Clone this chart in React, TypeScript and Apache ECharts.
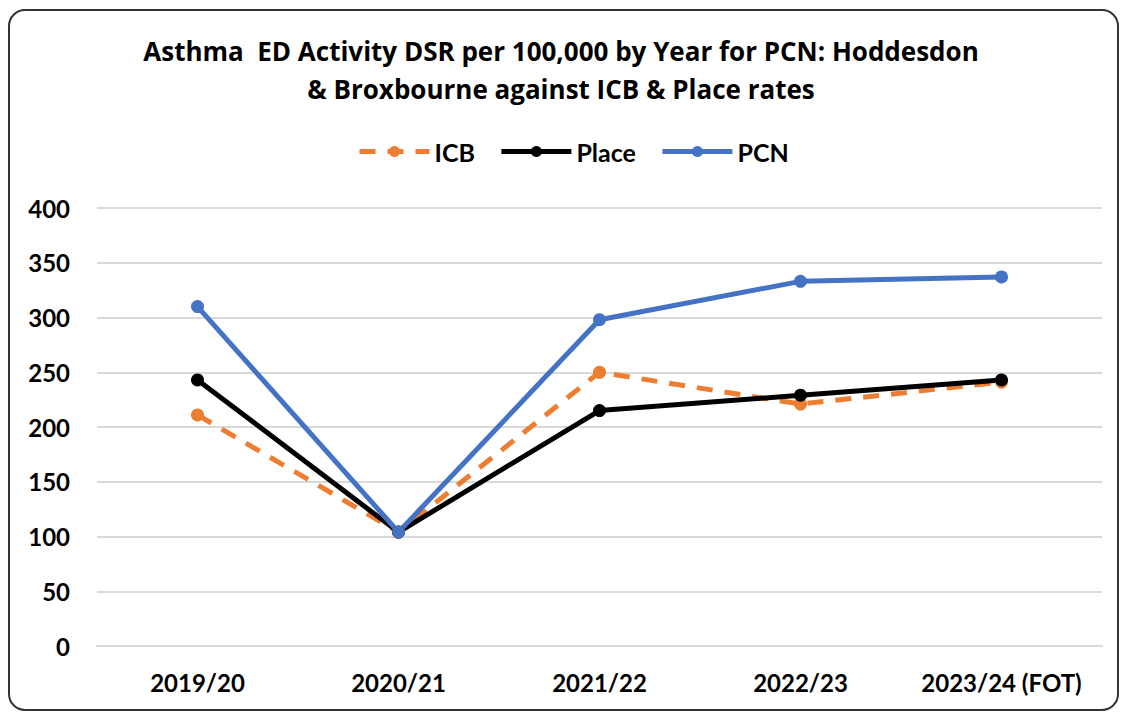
import React, { useEffect, useRef } from "react";
import * as echarts from "echarts";

const categories = ["2019/20", "2020/21", "2021/22", "2022/23", "2023/24 (FOT)"];
const icbValues = [211, 104, 250, 221, 241];
const placeValues = [243, 104, 215, 229, 243];
const pcnValues = [310, 104, 298, 333, 337];
const yTicks = { min: 0, max: 400, interval: 50 };

const FONT = "Lato, 'Noto Sans', sans-serif";
const TITLE_FONT = "'Open Sans', Lato, sans-serif";

export default function App() {
  const ref = useRef<HTMLDivElement>(null);
  useEffect(() => {
    if (!ref.current) return;
    const chart = echarts.init(ref.current, null, { renderer: "svg" });
    chart.setOption({
      animation: false,
      backgroundColor: "#ffffff",
      title: {
        text: "Asthma  ED Activity DSR per 100,000 by Year for PCN: Hoddesdon\n& Broxbourne against ICB & Place rates",
        left: "center",
        top: 27,
        textStyle: {
          fontFamily: TITLE_FONT,
          fontSize: 26,
          fontWeight: "bold",
          color: "#000",
          lineHeight: 38,
        },
      },
      legend: {
        top: 134,
        left: 352,
        itemWidth: 70,
        itemHeight: 14,
        itemGap: 24,
        lineStyle: { width: 5 },
        textStyle: { fontFamily: FONT, fontSize: 25, fontWeight: "bold", color: "#000" },
        data: ["ICB", "Place", "PCN"],
      },
      graphic: [
        {
          type: "rect",
          shape: { x: 9, y: 10, width: 1109, height: 700, r: 16 },
          style: { fill: "none", stroke: "#333", lineWidth: 2 },
          silent: true,
        },
      ],
      grid: { left: 97, right: 20, top: 208, bottom: 67, containLabel: false },
      xAxis: {
        type: "category",
        data: categories,
        boundaryGap: true,
        axisLine: { show: true, lineStyle: { color: "#d9d9d9", width: 2 } },
        axisTick: { show: false },
        axisLabel: { interval: 0, fontFamily: FONT, fontSize: 24, fontWeight: "bold", color: "#000", margin: 24 },
      },
      yAxis: {
        type: "value",
        min: yTicks.min,
        max: yTicks.max,
        interval: yTicks.interval,
        axisLine: { show: false },
        axisTick: { show: false },
        splitLine: { lineStyle: { color: "#d9d9d9", width: 2 } },
        axisLabel: { fontFamily: FONT, fontSize: 24, fontWeight: "bold", color: "#000", margin: 27 },
      },
      series: [
        {
          name: "ICB",
          type: "line",
          data: icbValues,
          symbol: "circle",
          symbolSize: 13,
          itemStyle: { color: "#ED7D31" },
          lineStyle: { color: "#ED7D31", width: 5, type: [16, 12] },
        },
        {
          name: "Place",
          type: "line",
          data: placeValues,
          symbol: "circle",
          symbolSize: 13,
          itemStyle: { color: "#000000" },
          lineStyle: { color: "#000000", width: 5 },
        },
        {
          name: "PCN",
          type: "line",
          data: pcnValues,
          symbol: "circle",
          symbolSize: 13,
          itemStyle: { color: "#4472C4" },
          lineStyle: { color: "#4472C4", width: 5 },
        },
      ],
    });
    return () => chart.dispose();
  }, []);
  return (
    <div
      ref={ref}
      style={{ position: "fixed", left: 0, top: 0, width: 1122, height: 713 }}
    />
  );
}
